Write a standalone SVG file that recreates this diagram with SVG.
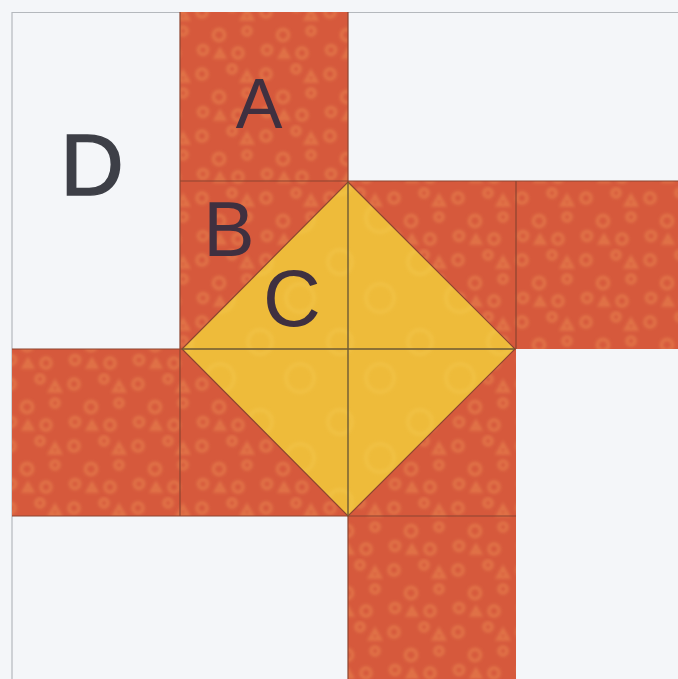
<svg xmlns="http://www.w3.org/2000/svg" width="678" height="679" viewBox="0 0 678 679">
<defs>
<filter id="soft" x="-10%" y="-10%" width="120%" height="120%"><feGaussianBlur stdDeviation="1.6"/></filter>
<pattern id="dots" patternUnits="userSpaceOnUse" width="64" height="62">
<rect width="64" height="62" fill="#d6593c"/>
<g fill="none" stroke="#ea8850" stroke-width="3.5" opacity="0.55" filter="url(#soft)">
<circle cx="10" cy="12" r="5"/>
<circle cx="40" cy="7" r="4"/>
<circle cx="27" cy="35" r="5.5"/>
<circle cx="55" cy="31" r="4"/>
<circle cx="11" cy="50" r="4.5"/>
<circle cx="46" cy="53" r="5"/>
<path d="M55 10 l5 9 h-10 z"/>
<path d="M28 50 l4 7 h-8 z"/>
</g>
</pattern>
<pattern id="gold" patternUnits="userSpaceOnUse" width="80" height="80">
<rect width="80" height="80" fill="#eebb3a"/>
<g fill="none" stroke="#f3c64c" stroke-width="4" opacity="0.5" filter="url(#soft)">
<circle cx="20" cy="22" r="12"/>
<circle cx="60" cy="58" r="14"/>
</g>
</pattern>
<style>
.red{fill:url(#dots)}
.white{fill:#f4f6f9}
.seam{stroke:#8c4430;stroke-width:1.2;fill:none}
.seamd{stroke:#6e5a34;stroke-width:1.4;fill:none}
.lbl{font-family:"Liberation Sans",Arial,sans-serif;fill:#3d3f47;text-anchor:middle}
.onred{fill:#3f3040}
</style>
</defs>
<rect width="678" height="679" class="white"/>
<path d="M12 679 V12.5 H678" stroke="#b4b8bd" stroke-width="1.2" fill="none"/>
<g id="A"><rect x="180" y="12" width="168" height="169" class="red"/></g>
<g id="B"><rect x="180" y="181" width="168" height="168" class="red"/></g>
<g id="B2"><rect x="348" y="181" width="168" height="168" class="red"/></g>
<g id="A2"><rect x="516" y="181" width="162" height="168" class="red"/></g>
<g id="A3"><rect x="12" y="349" width="168" height="167" class="red"/></g>
<g id="B3"><rect x="180" y="349" width="168" height="167" class="red"/></g>
<g id="B4"><rect x="348" y="349" width="168" height="167" class="red"/></g>
<g id="A4"><rect x="348" y="516" width="168" height="163" class="red"/></g>
<g id="C"><polygon points="348,182 515,349 348,516 182,349" fill="url(#gold)"/></g>
<g id="seams">
<path class="seam" d="M180 181 H678 M180 12 V516 M516 181 V349 M12 516 H516 M12 349 H182 M515 349 H516 M348 12 V182 M348 516 V679"/>
<path class="seam" d="M348 182 L515 349 L348 516 L182 349 Z"/>
<path class="seamd" d="M348 182 V516 M182 349 H515"/>
</g>
<g id="D"><text x="92" y="195" class="lbl" font-size="88" stroke="#3d3f47" stroke-width="1.5">D</text></g>
<text x="259" y="128" class="lbl onred" font-size="70">A</text>
<text x="229" y="256" class="lbl onred" font-size="77">B</text>
<text x="292" y="326" class="lbl onred" font-size="80">C</text>
</svg>
